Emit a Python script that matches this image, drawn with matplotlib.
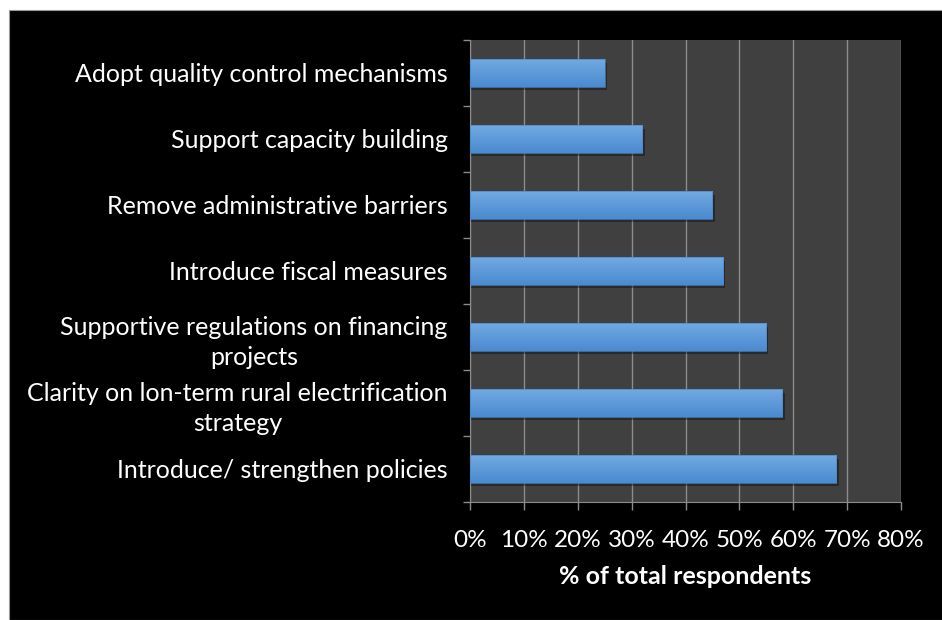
import numpy as np
import matplotlib
matplotlib.use("Agg")
import matplotlib.pyplot as plt
from matplotlib.patches import Rectangle
from matplotlib.ticker import MultipleLocator, FuncFormatter
from matplotlib.colors import LinearSegmentedColormap

plt.rcParams['font.family'] = ['Lato', 'DejaVu Sans']

# Datos (de abajo hacia arriba)
categories = [
    "Introduce/ strengthen policies",
    "Clarity on lon-term rural electrification\nstrategy",
    "Supportive regulations on financing\nprojects",
    "Introduce fiscal measures",
    "Remove administrative barriers",
    "Support capacity building",
    "Adopt quality control mechanisms",
]
values = [68, 58, 55, 47, 45, 32, 25]

fig = plt.figure(figsize=(9.42, 6.2), dpi=100)
fig.patch.set_facecolor("white")
# fondo negro con margen blanco arriba e izquierda
bg = Rectangle((9 / 942, 0), 1, 610 / 620, transform=fig.transFigure,
               facecolor="black", edgecolor="#9a9a9a", lw=0.8, zorder=-10)
fig.add_artist(bg)

ax = fig.add_axes([470 / 942, 1 - 502 / 620, 431 / 942, 462 / 620])
ax.set_facecolor("#404040")

y = np.arange(len(categories))
h = 0.41
grad = LinearSegmentedColormap.from_list("g", ["#4a8ad0", "#72aae2"])
g = np.linspace(0, 1, 50).reshape(-1, 1)

for yi, v in zip(y, values):
    # sombra
    ax.add_patch(Rectangle((0, yi - h / 2 - 0.05), v + 0.4, h, facecolor="black",
                           alpha=0.35, lw=0, zorder=2))
    ax.imshow(g, cmap=grad, origin="lower", aspect="auto",
              extent=[0, v, yi - h / 2, yi + h / 2], zorder=3)
    ax.add_patch(Rectangle((0, yi - h / 2), v, h, facecolor="none",
                           edgecolor="#4a86c8", lw=0.5, zorder=4))

ax.set_xlim(0, 80)
ax.set_ylim(-0.5, len(categories) - 0.5)
ax.xaxis.set_major_locator(MultipleLocator(10))
ax.xaxis.set_major_formatter(FuncFormatter(lambda x, p: f"{x:.0f}%"))
ax.grid(axis="x", color="#8c8c8c", lw=1)
ax.set_axisbelow(True)

ax.set_yticks(y)
ax.set_yticklabels(categories, multialignment="center", linespacing=1.35)
ax.set_yticks(np.arange(-0.5, len(categories), 1), minor=True)
ax.tick_params(axis="y", which="major", length=0, pad=16, labelsize=18, labelcolor="white")
ax.tick_params(axis="y", which="minor", length=5, color="#8c8c8c", width=1)
ax.tick_params(axis="x", length=6, color="#8c8c8c", width=1, labelsize=17.5,
               labelcolor="white", pad=14)

for s in ["top", "right"]:
    ax.spines[s].set_visible(False)
ax.spines["left"].set_color("#8c8c8c")
ax.spines["bottom"].set_color("#8c8c8c")

ax.set_xlabel("% of total respondents", color="white", fontsize=18, fontweight="bold",
              labelpad=10)

fig.savefig("out.png", dpi=100, facecolor=fig.get_facecolor())
